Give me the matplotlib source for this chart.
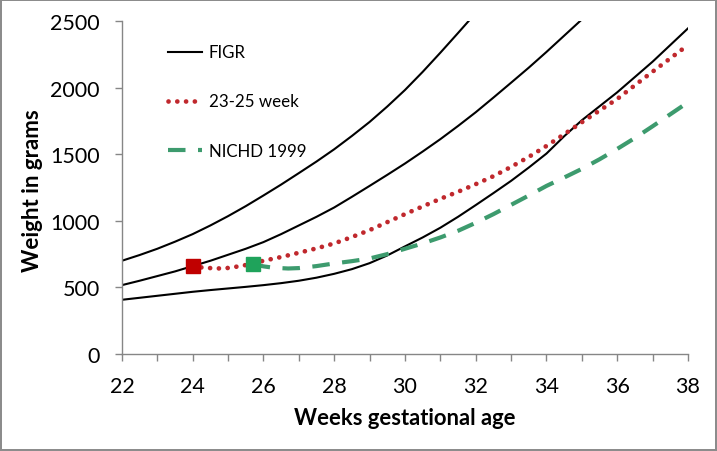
import matplotlib
matplotlib.use("Agg")
import matplotlib.pyplot as plt
from matplotlib.lines import Line2D

# ---- data ----
figr_low_weeks = [22, 22.5, 23, 23.5, 24, 24.5, 25, 25.5, 26, 26.5, 27, 27.5, 28, 28.5, 29, 29.5,
                  30, 30.5, 31, 31.5, 32, 32.5, 33, 33.5, 34, 34.5, 35, 35.5, 36, 36.5, 37, 37.5, 38]
figr_low = [407, 422, 437, 452, 467, 480, 492, 504, 517, 532, 550, 573, 602, 637, 682, 740,
            808, 875, 948, 1030, 1118, 1208, 1300, 1400, 1505, 1635, 1755, 1860, 1965, 2080, 2195, 2320, 2445]

figr_mid_weeks = [22, 22.5, 23, 23.5, 24, 24.5, 25, 25.5, 26, 26.5, 27, 27.5, 28, 28.5, 29, 29.5,
                  30, 30.5, 31, 31.5, 32, 32.5, 33, 33.5, 34, 34.5, 35]
figr_mid = [517, 550, 585, 620, 660, 700, 745, 790, 840, 900, 965, 1030, 1100, 1180, 1262, 1345,
            1430, 1520, 1613, 1712, 1815, 1925, 2037, 2150, 2268, 2390, 2512]

figr_up_weeks = [22, 22.5, 23, 23.5, 24, 24.5, 25, 25.5, 26, 26.5, 27, 27.5, 28, 28.5, 29, 29.5,
                 30, 30.5, 31, 31.5, 32]
figr_up = [700, 743, 790, 843, 900, 965, 1035, 1110, 1190, 1272, 1358, 1445, 1537, 1637, 1742, 1858,
           1982, 2118, 2262, 2410, 2560]

wk2325_weeks = [24, 24.25, 24.5, 24.8, 25, 25.4, 25.7, 26, 26.5, 27, 27.5, 28, 28.5, 29, 29.5,
                30, 30.5, 31, 31.5, 32, 32.5, 33, 33.5, 34, 34.5, 35, 35.5, 36, 36.5, 37, 37.5, 38]
wk2325 = [660, 650, 645, 642, 646, 662, 680, 700, 728, 760, 793, 830, 878, 930, 990,
          1050, 1108, 1165, 1218, 1275, 1335, 1405, 1480, 1562, 1650, 1740, 1828, 1915, 2018, 2120, 2220, 2320]

nichd_weeks = [25.7, 26, 26.3, 26.7, 27, 27.5, 28, 28.5, 29, 29.5, 30, 30.5, 31, 31.5, 32, 32.5,
               33, 33.5, 34, 34.5, 35, 35.5, 36, 36.5, 37, 37.5, 38]
nichd = [675, 658, 647, 642, 645, 660, 680, 697, 717, 750, 790, 830, 875, 925, 985, 1050,
         1120, 1190, 1262, 1325, 1390, 1462, 1540, 1622, 1710, 1800, 1890]

x_ticks = list(range(22, 39))
x_labels = [str(t) if t % 2 == 0 else "" for t in x_ticks]
y_ticks = [0, 500, 1000, 1500, 2000, 2500]

plt.rcParams['font.family'] = ['Lato', 'DejaVu Sans']

fig = plt.figure(figsize=(7.17, 4.52), dpi=100)
fig.patch.set_edgecolor('#8c8c8c')
fig.patch.set_linewidth(1.5)
ax = fig.add_axes([0.170, 0.2146, 0.7896, 0.7367])

black = '#000000'
red_line = '#C0282D'
red_mark = '#C00000'
green_line = '#3D9B6E'
green_mark = '#1FA35B'
dot_style = (0, (0.01, 1.85))
dash_style = (0, (4.2, 3.0))

ax.plot(figr_low_weeks, figr_low, color=black, lw=1.5, zorder=2)
ax.plot(figr_mid_weeks, figr_mid, color=black, lw=1.5, zorder=2)
ax.plot(figr_up_weeks, figr_up, color=black, lw=1.5, zorder=2)

ax.plot(nichd_weeks, nichd, color=green_line, lw=3.0, linestyle=dash_style,
        dash_capstyle='butt', zorder=3)
ax.plot(wk2325_weeks, wk2325, color=red_line, lw=3.4, linestyle=dot_style,
        dash_capstyle='round', zorder=4)
ax.plot(wk2325_weeks[:1], wk2325[:1], linestyle='none', marker='s', markersize=10,
        color=red_mark, zorder=5)
ax.plot(nichd_weeks[:1], nichd[:1], linestyle='none', marker='s', markersize=10,
        color=green_mark, zorder=5)

ax.set_xlim(22, 38)
ax.set_ylim(0, 2500)
ax.set_xticks(x_ticks)
ax.set_xticklabels(x_labels)
ax.set_yticks(y_ticks)

for s in ['top', 'right']:
    ax.spines[s].set_visible(False)
for s in ['left', 'bottom']:
    ax.spines[s].set_color('#868686')
    ax.spines[s].set_linewidth(1.0)
ax.tick_params(axis='both', direction='out', length=5, width=1.0, color='#868686',
               labelsize=15.5, labelcolor='black')
ax.tick_params(axis='x', pad=11)
ax.tick_params(axis='y', pad=11)

ax.set_xlabel('Weeks gestational age', fontsize=15.8, fontweight='bold', labelpad=8)
ax.set_ylabel('Weight in grams', fontsize=16, fontweight='bold')
ax.yaxis.set_label_coords(-0.1396, 0.495)

handles = [
    Line2D([], [], color=black, lw=1.5),
    Line2D([], [], color=red_line, lw=3.4, linestyle=dot_style, dash_capstyle='round'),
    Line2D([], [], color=green_line, lw=3.0, linestyle=dash_style, dash_capstyle='butt'),
]
labels = ['FIGR', '23-25 week', 'NICHD 1999']
leg = ax.legend(handles, labels, loc='upper left', bbox_to_anchor=(0.07, 0.95),
                frameon=False, fontsize=12.2, handlelength=2.0, handletextpad=0.4,
                labelspacing=1.95, borderaxespad=0)

fig.savefig('out.png', dpi=100, edgecolor=fig.get_edgecolor())
